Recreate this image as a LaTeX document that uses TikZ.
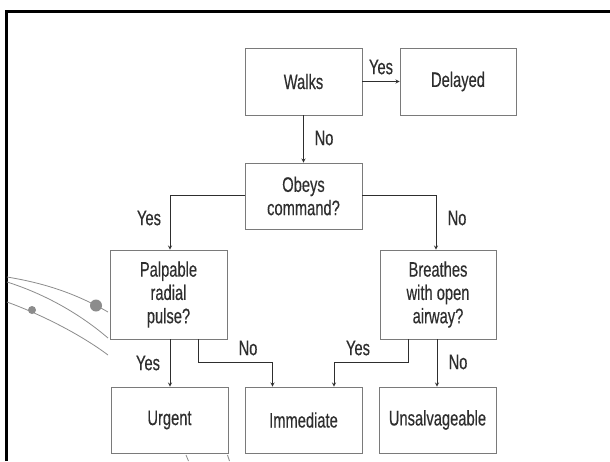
\documentclass[tikz,border=0pt]{standalone}
\usepackage{fontspec}
\setmainfont{Liberation Sans}[FakeStretch=0.7,FakeBold=0.35]
\usetikzlibrary{arrows}
\definecolor{boxgray}{HTML}{7A7A7A}
\definecolor{inkgray}{HTML}{2E2E2E}
\definecolor{scratch}{HTML}{8C8C8C}
\tikzset{tbox/.style={draw=boxgray, line width=0.9pt, minimum width=117pt, text=inkgray, align=center, inner sep=0pt, font=\fontsize{21}{23.3}\selectfont},
         link/.style={draw=inkgray, line width=0.8pt, -stealth, shorten >=0pt},
         lbl/.style={text=inkgray, inner sep=0pt, font=\fontsize{21}{23.3}\selectfont}}

\begin{document}
\begin{tikzpicture}[x=1pt,y=-1pt]
   \useasboundingbox (0,0) rectangle (610,461);
   \fill[white] (0,0) rectangle (610,461);
   % frame
   \draw[black, line width=2.6pt] (6.3,461) -- (6.3,11.3) -- (610,11.3);
   % boxes
   \node[tbox, minimum height=67pt] (walks) at (303.5,81.5) {Walks};
   \node[tbox, minimum height=67pt, minimum width=116pt] (delayed) at (458,81.5) {Delayed};
   \node[tbox, minimum height=66pt] (obeys) at (303.5,196) {Obeys\\command?};
   \node[tbox, minimum height=89pt] (palpable) at (168.5,294.5) {Palpable\\radial\\pulse?};
   \node[tbox, minimum height=89pt, minimum width=116pt] (breathes) at (438,294.5) {Breathes\\with open\\airway?};
   \node[tbox, minimum height=66pt] (urgent) at (169.5,420) {Urgent};
   \node[tbox, minimum height=66pt] (immediate) at (303.5,420) {Immediate};
   \node[tbox, minimum height=66pt] (unsalvageable) at (437.5,420) {Unsalvageable};
   % connectors
   \draw[link] (walks.east) -- (delayed.west);
   \draw[link] (walks.south) -- (obeys.north);
   \draw[link] ([yshift=1pt]obeys.west) -| ([xshift=1.5pt]palpable.north);
   \draw[link] ([yshift=1pt]obeys.east) -| ([xshift=-2pt]breathes.north);
   \draw[link] ([xshift=1.5pt]palpable.south) -- ([xshift=0.5pt]urgent.north);
   \draw[link] ([xshift=29.5pt]palpable.south) -- ++(0,23) -| ([xshift=-31pt]immediate.north);
   \draw[link] ([xshift=-30pt]breathes.south) -- ++(0,23) -| ([xshift=30.5pt]immediate.north);
   \draw[link] ([xshift=-1pt]breathes.south) -- ([xshift=-0.5pt]unsalvageable.north);
   % labels
   \node[lbl] (yes1) at (381,67) {Yes};
   \node[lbl] (no1) at (324,138) {No};
   \node[lbl] (yes2) at (149,218) {Yes};
   \node[lbl] (no2) at (457,218) {No};
   \node[lbl] (yes3) at (148,363) {Yes};
   \node[lbl] (no3) at (248,348) {No};
   \node[lbl] (yes4) at (358,348) {Yes};
   \node[lbl] (no4) at (458,362) {No};
   % stray marks
   \draw[scratch, line width=0.8pt] (7,277) .. controls (50,284) and (80,296) .. (108,312);
   \draw[scratch, line width=0.8pt] (7,282) .. controls (45,294) and (80,314) .. (108,338);
   \draw[scratch, line width=0.8pt] (7,302) .. controls (40,314) and (80,334) .. (108,355);
   \fill[scratch] (96,305.5) circle (6);
   \fill[scratch] (32,310) circle (4);
   \draw[scratch, line width=0.8pt] (186,455) -- (188.5,461);
   \draw[scratch, line width=0.8pt] (227.5,455) -- (229.5,461);
\end{tikzpicture}
\end{document}
